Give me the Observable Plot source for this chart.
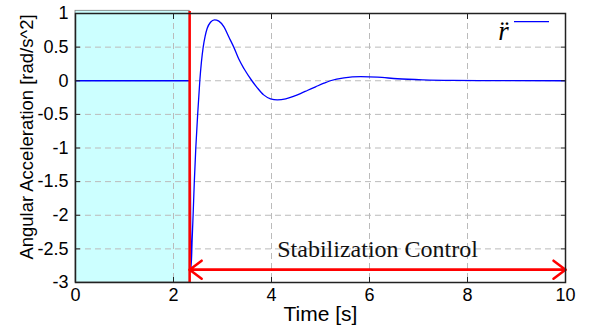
<!DOCTYPE html>
<html><head><meta charset="utf-8">
<script src="https://cdn.jsdelivr.net/npm/d3@7"></script>
<script src="https://cdn.jsdelivr.net/npm/@observablehq/plot@0.6"></script>
<style>body{margin:0;background:#fff;}</style>
</head><body><div id="chart"></div>
<script>
const time  = [0, 2.33, 2.36, 2.38, 2.40, 2.425, 2.455, 2.495, 2.537, 2.57, 2.606, 2.645, 2.688, 2.755, 2.837, 2.925, 3.03, 3.13, 3.23, 3.33, 3.44, 3.6, 3.71, 3.84, 3.98, 4.12, 4.29, 4.46, 4.59, 4.73, 4.9, 5.07, 5.2, 5.48, 5.82, 6.16, 6.57, 7.1, 7.7, 8.5, 10];
const accel = [0, 0, -2.77, -2.38, -2.0, -1.5, -1.0, -0.48, 0, 0.28, 0.5, 0.66, 0.78, 0.87, 0.906, 0.886, 0.8, 0.65, 0.5, 0.326, 0.178, 0, -0.105, -0.21, -0.268, -0.283, -0.268, -0.228, -0.19, -0.145, -0.09, -0.036, 0, 0.044, 0.06, 0.053, 0.03, 0.014, 0.005, 0.001, 0];
const xTicks = [0, 2, 4, 6, 8, 10];
const yTicks = [-3, -2.5, -2, -1.5, -1, -0.5, 0, 0.5, 1];
const controlStart = 2.33;
const controlEnd = 10;
const arrowLevel = -2.81;
const phaseLabel = "Stabilization Control";
const seriesLabel = "r\u0308";
const xLabel = "Time [s]";
const yLabel = "Angular Acceleration [rad/s^2]";

const data = time.map((t, i) => ({t, a: accel[i]}));
const phases = [{start: 0, end: controlStart}];
const span = [{from: controlStart, to: controlEnd, level: arrowLevel}];
const fmt = d => String(d);
const sans = "'Liberation Sans', Arial, Helvetica, sans-serif";
const serif = "'Liberation Serif', 'Times New Roman', serif";
const inward = {tickSize: -5, tickFormat: () => "", label: null, stroke: "#222"};

const chart = Plot.plot({
  width: 592, height: 335,
  marginLeft: 75, marginRight: 27, marginTop: 13, marginBottom: 53,
  style: {fontFamily: sans, background: "white", overflow: "visible", color: "black"},
  x: {domain: [0, 10]},
  y: {domain: [-3, 1]},
  marks: [
    Plot.rect(phases, {x1: "start", x2: "end", y1: -3, y2: 1.04, fill: "#ccffff", stroke: "#777", strokeWidth: 0.8}),
    Plot.gridX(xTicks, {stroke: "#bbb", strokeOpacity: 1, strokeDasharray: "6,4"}),
    Plot.gridY(yTicks, {stroke: "#bbb", strokeOpacity: 1, strokeDasharray: "6,4"}),
    Plot.line(data, {x: "t", y: "a", stroke: "#0000ff", strokeWidth: 1.3, curve: "monotone-x"}),
    Plot.ruleX([controlStart], {y1: -3, y2: 1.03, stroke: "#ff0000", strokeWidth: 2.5}),
    Plot.arrow(span, {x1: "from", x2: "to", y1: "level", y2: "level", stroke: "#ff0000", strokeWidth: 2.5, headLength: 9, headAngle: 74}),
    Plot.arrow(span, {x1: "to", x2: "from", y1: "level", y2: "level", stroke: "#ff0000", strokeWidth: 2.5, headLength: 9, headAngle: 74}),
    Plot.text([phaseLabel], {x: (controlStart + controlEnd) / 2, y: arrowLevel, dy: -12.6, lineAnchor: "bottom", textAnchor: "middle", fontFamily: serif, fontSize: 24, fill: "#111"}),
    Plot.frame({stroke: "#222", strokeWidth: 1.5}),
    Plot.axisX(xTicks, {anchor: "bottom", ...inward}),
    Plot.axisX(xTicks, {anchor: "top", ...inward}),
    Plot.axisY(yTicks, {anchor: "left", ...inward}),
    Plot.axisY(yTicks, {anchor: "right", ...inward}),
    Plot.axisX(xTicks, {anchor: "bottom", tickSize: 0, tickPadding: 6, tickFormat: fmt, fontSize: 18, label: null}),
    Plot.axisY(yTicks, {anchor: "left", tickSize: 0, tickPadding: 7, tickFormat: fmt, fontSize: 18, label: null}),
    Plot.text([xLabel], {frameAnchor: "bottom", dy: 38.7, lineAnchor: "bottom", textAnchor: "middle", fontSize: 21, fill: "black"}),
    Plot.text([yLabel], {frameAnchor: "left", rotate: -90, dx: -43, dy: -11, lineAnchor: "bottom", textAnchor: "middle", fontSize: 18.5, fill: "black"}),
    Plot.text([seriesLabel], {frameAnchor: "top-right", dx: -62, dy: 26, lineAnchor: "bottom", textAnchor: "middle", fontFamily: serif, fontStyle: "italic", fontSize: 27, fill: "black"})
  ]
});
document.getElementById("chart").appendChild(chart);
const svg = d3.select(chart);
svg.append("line")
  .attr("x1", 592 - 27 - 51).attr("x2", 592 - 27 - 16)
  .attr("y1", 13 + 8.7).attr("y2", 13 + 8.7)
  .attr("stroke", "#0000ff").attr("stroke-width", 1.3);
</script>
</body></html>
